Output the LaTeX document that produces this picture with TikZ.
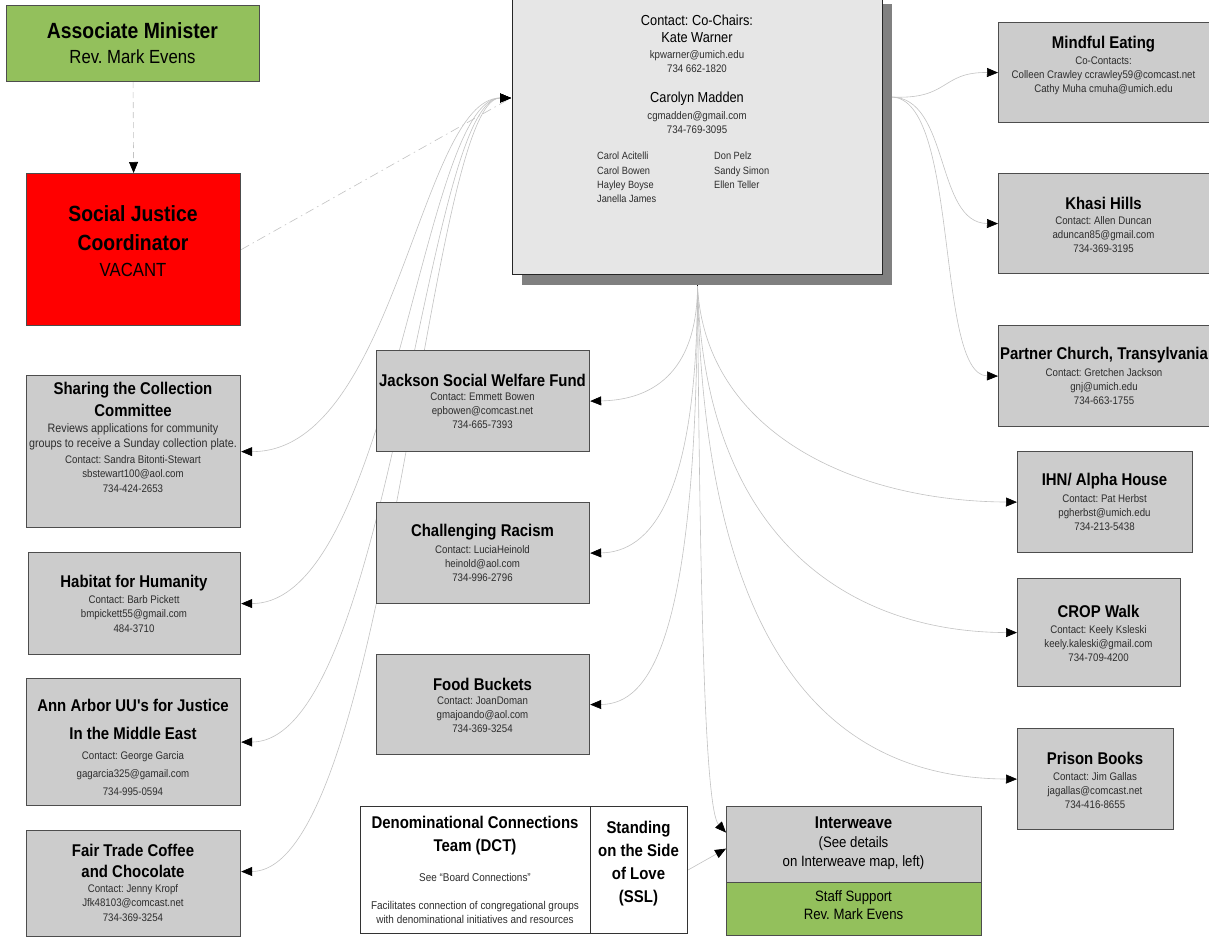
\documentclass[tikz,border=0pt]{standalone}
\usepackage{fontspec}
\setmainfont{Liberation Sans}[FakeStretch=0.88, Ligatures=TeXOff]
\usetikzlibrary{arrows.meta}
\newcommand\fsz[2]{\fontsize{#1}{#2}\selectfont}
\definecolor{boxgray}{RGB}{204,204,204}
\definecolor{maingray}{RGB}{230,230,230}
\definecolor{shadowgray}{RGB}{128,128,128}
\definecolor{mgreen}{RGB}{147,192,92}
\definecolor{edgegray}{RGB}{77,77,77}
\definecolor{linegray}{RGB}{195,195,195}
\definecolor{txtgray}{RGB}{45,45,45}
\pgfdeclarelayer{bg}
\pgfsetlayers{bg,main}
\frenchspacing
\begin{document}
\frenchspacing
\begin{tikzpicture}[x=1pt,y=-1pt,
  >={Triangle[length=11pt,width=9pt,color=black]},
  every node/.append style={execute at begin node=\frenchspacing},
  box/.style={draw=edgegray, line width=1.2pt, fill=boxgray, inner sep=0pt, anchor=north west},
  ttl/.style={font=\fsz{17}{22}\bfseries, align=center, inner sep=0pt, text=black},
  det/.style={font=\fsz{11}{14}, align=center, inner sep=0pt, text=txtgray, anchor=north},
  conn/.style={draw=linegray, line width=0.6pt},
  big/.style={font=\fsz{22}{29}\bfseries, align=center, inner sep=0pt, text=black},
  mid/.style={font=\fsz{15}{19}, align=center, inner sep=0pt, text=black}
]
\useasboundingbox (0,0) rectangle (1209,937);

% ---------- top left ----------
\node[box, fill=mgreen, minimum width=253pt, minimum height=76pt] (am) at (6,5) {};
\node[big] (amT) at (132.5,31) {Associate Minister};
\node[font=\fsz{19}{22}, inner sep=0pt] (amS) at (132.5,57) {Rev. Mark Evens};

\node[box, fill=red, draw=black!70, minimum width=214pt, minimum height=152pt] (sjc) at (26,173) {};
\node[big] (sjcT) at (133,228.5) {Social Justice\\Coordinator};
\node[font=\fsz{19}{22}, inner sep=0pt] (sjcS) at (133,270) {VACANT};

% ---------- main box ----------
\fill[shadowgray] (522,4) rectangle (892,285);
\node[box, fill=maingray, draw=black!85, line width=1pt, minimum width=370pt, minimum height=280pt] (main) at (512,-6) {};
\node[font=\fsz{14.5}{18}, inner sep=0pt] (cc) at (697,20) {Contact: Co-Chairs:};
\node[font=\fsz{14.5}{18}, inner sep=0pt] (kw) at (697,38) {Kate Warner};
\node[det] (kwd) at (697,50) {kpwarner@umich.edu\\734 662-1820};
\node[font=\fsz{14.5}{18}, inner sep=0pt] (cm) at (697,99) {Carolyn Madden};
\node[det] (cmd) at (697,111) {cgmadden@gmail.com\\734-769-3095};
\node[det, font=\fsz{10.5}{14.3}, align=left, anchor=north west] (n1) at (597,152) {Carol Acitelli\\Carol Bowen\\Hayley Boyse\\Janella James};
\node[det, font=\fsz{10.5}{14.3}, align=left, anchor=north west] (n2) at (714,152) {Don Pelz\\Sandy Simon\\Ellen Teller};

% ---------- right column ----------
\node[box, minimum width=212pt, minimum height=100pt] (mind) at (998,22) {};
\node[ttl] (mindT) at (1103.5,44) {Mindful Eating};
\node[det] (mindD) at (1103.5,57) {Co-Contacts:\\Colleen Crawley ccrawley59@comcast.net\\Cathy Muha cmuha@umich.edu};

\node[box, minimum width=212pt, minimum height=100pt] (khasi) at (998,173) {};
\node[ttl] (khasiT) at (1103.5,203) {Khasi Hills};
\node[det] (khasiD) at (1103.5,216) {Contact: Allen Duncan\\aduncan85@gmail.com\\734-369-3195};

\node[box, minimum width=212pt, minimum height=101pt] (partner) at (998,325) {};
\node[ttl] (partnerT) at (1104,355) {Partner Church, Transylvania};
\node[det] (partnerD) at (1104,368) {Contact: Gretchen Jackson\\gnj@umich.edu\\734-663-1755};

\node[box, minimum width=175pt, minimum height=101pt] (ihn) at (1017,451) {};
\node[ttl] (ihnT) at (1104.5,481) {IHN/ Alpha House};
\node[det] (ihnD) at (1104.5,494) {Contact: Pat Herbst\\pgherbst@umich.edu\\734-213-5438};

\node[box, minimum width=163pt, minimum height=108pt] (crop) at (1017,578) {};
\node[ttl] (cropT) at (1098.5,611) {CROP Walk};
\node[det] (cropD) at (1098.5,625) {Contact: Keely Ksleski\\keely.kaleski@gmail.com\\734-709-4200};

\node[box, minimum width=156pt, minimum height=101pt] (prison) at (1017,728) {};
\node[ttl] (prisonT) at (1095,758) {Prison Books};
\node[det] (prisonD) at (1095,772) {Contact: Jim Gallas\\jagallas@comcast.net\\734-416-8655};

% ---------- left column ----------
\node[box, minimum width=214pt, minimum height=152pt] (share) at (26,375) {};
\node[ttl] (shareT) at (133,399) {Sharing the Collection\\Committee};
\node[det, font=\fsz{12.2}{15.5}] (shareA) at (133,423) {Reviews applications for community\\groups to receive a Sunday collection plate.};
\node[det, font=\fsz{11}{14.8}] (shareD) at (133,455) {Contact: Sandra Bitonti-Stewart\\sbstewart100@aol.com\\734-424-2653};

\node[box, minimum width=212pt, minimum height=102pt] (hab) at (28,552) {};
\node[ttl] (habT) at (134,583) {Habitat for Humanity};
\node[det, font=\fsz{11}{14.5}] (habD) at (134,595) {Contact: Barb Pickett\\bmpickett55@gmail.com\\484-3710};

\node[box, minimum width=214pt, minimum height=127pt] (ann) at (26,678) {};
\node[ttl, font=\fsz{17}{28}\bfseries] (annT) at (133,719) {Ann Arbor UU's for Justice\\In the Middle East};
\node[det, font=\fsz{11}{18}] (annD) at (133,751) {Contact: George Garcia\\gagarcia325@gamail.com\\734-995-0594};

\node[box, minimum width=214pt, minimum height=106pt] (fair) at (26,830) {};
\node[ttl, font=\fsz{17}{21}\bfseries] (fairT) at (133,860.5) {Fair Trade Coffee\\and Chocolate};
\node[det, font=\fsz{11}{14.5}] (fairD) at (133,884) {Contact: Jenny Kropf\\Jfk48103@comcast.net\\734-369-3254};

% ---------- center column ----------
\node[box, minimum width=213pt, minimum height=101pt] (jack) at (376,350) {};
\node[ttl] (jackT) at (482.5,380) {Jackson Social Welfare Fund};
\node[det] (jackD) at (482.5,393) {Contact: Emmett Bowen\\epbowen@comcast.net\\734-665-7393};

\node[box, minimum width=213pt, minimum height=101pt] (chal) at (376,502) {};
\node[ttl] (chalT) at (482.5,532) {Challenging Racism};
\node[det] (chalD) at (482.5,545) {Contact: LuciaHeinold\\heinold@aol.com\\734-996-2796};

\node[box, minimum width=213pt, minimum height=100pt] (food) at (376,654) {};
\node[ttl] (foodT) at (482.5,684) {Food Buckets};
\node[det] (foodD) at (482.5,697) {Contact: JoanDoman\\gmajoando@aol.com\\734-369-3254};

% ---------- bottom ----------
\node[box, fill=white, draw=black!80, line width=1pt, minimum width=230pt, minimum height=127pt] (dct) at (360,806) {};
\node[box, fill=white, draw=black!80, line width=1pt, minimum width=97pt, minimum height=127pt] (ssl) at (590,806) {};
\node[ttl, font=\fsz{17}{23}\bfseries] (dctT) at (475,835.5) {Denominational Connections\\Team (DCT)};
\node[det, font=\fsz{11.3}{14}] (dctS) at (475,873) {See “Board Connections”};
\node[det, font=\fsz{11.3}{14}] (dctD) at (475,901) {Facilitates connection of congregational groups\\with denominational initiatives and resources};
\node[ttl, font=\fsz{17}{23}\bfseries] (sslT) at (638.5,863.5) {Standing\\on the Side\\of Love\\(SSL)};

\node[box, minimum width=255pt, minimum height=76pt] (iw) at (726,806) {};
\node[box, fill=mgreen, minimum width=255pt, minimum height=53pt] (iws) at (726,882) {};
\node[ttl] (iwT) at (853.5,823) {Interweave};
\node[mid] (iwD) at (853.5,853) {(See details\\on Interweave map, left)};
\node[mid, font=\fsz{15}{18}] (iwsT) at (853.5,905) {Staff Support\\Rev. Mark Evens};

% ---------- connection points ----------
\coordinate (mainL) at (511,98);
\coordinate (mainR) at (891,97);
\coordinate (mainB) at ([yshift=-11pt]main.south);
\coordinate (fairE) at ([yshift=12pt]fair.east);
\coordinate (iwA) at ([yshift=12pt]iw.west);
\coordinate (iwB) at ([yshift=-4pt]iw.west);

% ---------- connectors ----------
\begin{pgfonlayer}{bg}
\fill[white] (0,0) rectangle (1209,937);
\draw[conn, dash pattern=on 6pt off 4pt, ->] (am.south) -- (sjc.north);
\draw[conn, dash pattern=on 9pt off 4pt on 1.5pt off 4pt] (sjc.east) -- (mainL);
% left group
\draw[conn, <->] (share.east) .. controls (395,452) and (420,98) .. (mainL);
\draw[conn, <->] (hab.east) .. controls (392,603) and (422,98) .. (mainL);
\draw[conn, <->] (ann.east) .. controls (390,741) and (425,98) .. (mainL);
\draw[conn, <->] (fairE) .. controls (388,870) and (428,98) .. (mainL);
% right group
\draw[conn, ->] (mainR) .. controls (950,100) and (940,72) .. (mind.west);
\draw[conn, ->] (mainR) .. controls (950,97) and (935,223) .. (khasi.west);
\draw[conn, ->] (mainR) .. controls (960,97) and (935,375) .. (partner.west);
% bottom group
\draw[black, line width=0.8pt] (main.south) -- (mainB);
\draw[conn, ->] (mainB) .. controls (697,375) and (650,400) .. (jack.east);
\draw[conn, ->] (mainB) .. controls (697,500) and (650,552) .. (chal.east);
\draw[conn, ->] (mainB) .. controls (697,640) and (650,704) .. (food.east);
\draw[conn, ->] (mainB) .. controls (705,430) and (850,501) .. (ihn.west);
\draw[conn, ->] (mainB) .. controls (705,540) and (850,632) .. (crop.west);
\draw[conn, ->] (mainB) .. controls (705,680) and (850,778) .. (prison.west);
\draw[conn, ->] (mainB) .. controls (700,600) and (705,810) .. (iwA);
\draw[conn, ->] (ssl.east) -- (iwB);
\end{pgfonlayer}
\end{tikzpicture}
\end{document}
